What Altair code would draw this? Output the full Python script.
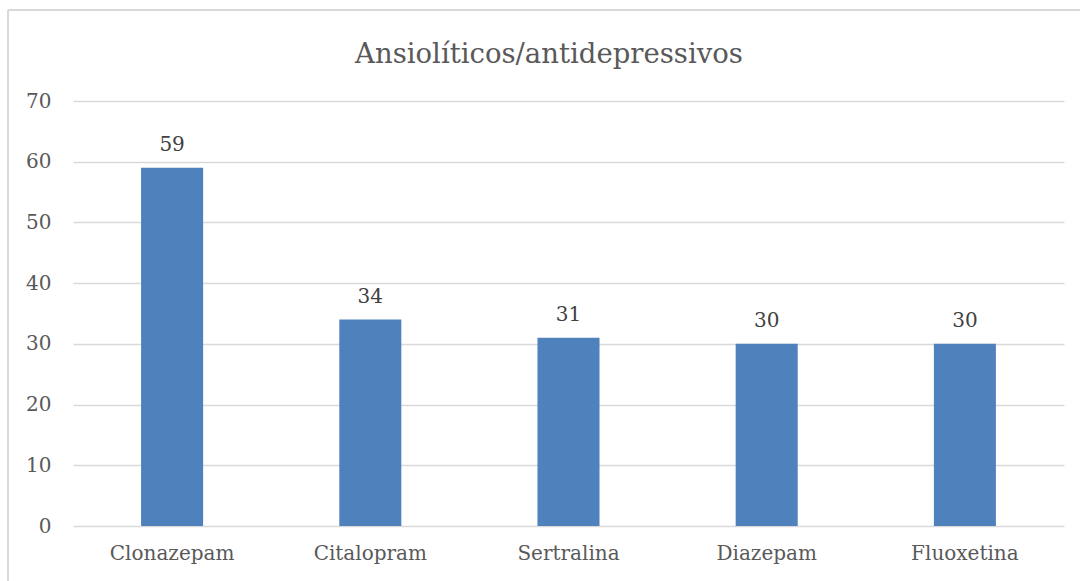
import altair as alt
import pandas as pd

categories = ["Clonazepam", "Citalopram", "Sertralina", "Diazepam", "Fluoxetina"]
values = [59, 34, 31, 30, 30]
y_ticks = [0, 10, 20, 30, 40, 50, 60, 70]
title_text = "Ansiolíticos/antidepressivos"

df = pd.DataFrame({"cat": categories, "val": values})

FONT = "DejaVu Serif"
GREY = "#595959"

x = alt.X("cat:N", sort=categories, title=None,
          scale=alt.Scale(paddingInner=0.687, paddingOuter=0.3435),
          axis=alt.Axis(labelAngle=0, labelFont=FONT, labelFontSize=20, labelColor=GREY,
                        labelPadding=17, ticks=False, domain=False, grid=False))
y = alt.Y("val:Q", title=None, scale=alt.Scale(domain=[0, 70], nice=False),
          axis=alt.Axis(values=y_ticks, labelFont=FONT, labelFontSize=20, labelColor=GREY,
                        labelPadding=22, ticks=False, domain=False, grid=True,
                        gridColor="#d9d9d9", gridWidth=1.5))

bars = alt.Chart(df).mark_bar(color="#4f81bd").encode(x=x, y=y)
labels = alt.Chart(df).mark_text(font=FONT, fontSize=20, color="#404040",
                                 baseline="alphabetic", dy=-17).encode(
    x=alt.X("cat:N", sort=categories), y="val:Q", text="val:Q")

title = alt.Chart(pd.DataFrame({"t": [title_text]})).mark_text(
    font=FONT, fontSize=27.5, color=GREY, baseline="alphabetic", align="center").encode(
    x=alt.value(476), y=alt.value(-38), text="t:N")

border_top = alt.Chart(df).mark_rule(color="#d9d9d9", strokeWidth=1.5).encode(
    x=alt.value(-65), x2=alt.value(1100), y=alt.value(-91))
border_left = alt.Chart(df).mark_rule(color="#d9d9d9", strokeWidth=1.5).encode(
    x=alt.value(-65), y=alt.value(-91), y2=alt.value(600))

chart = alt.layer(bars, labels, title, border_top, border_left).properties(
    width=991, height=425,
    padding={"left": 73, "top": 101, "right": 16, "bottom": 55},
    autosize="none",
    background="white",
).configure_view(stroke=None)

chart.save("out.html", embed_options={"renderer": "svg", "actions": False})
